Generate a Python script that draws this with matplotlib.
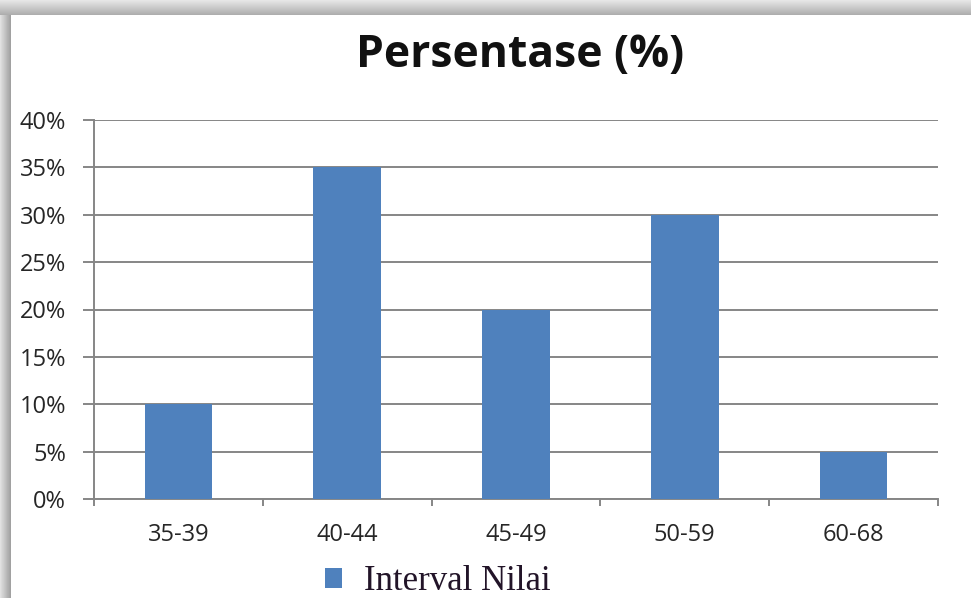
import numpy as np
import matplotlib
matplotlib.use("Agg")
import matplotlib.pyplot as plt
from matplotlib.ticker import PercentFormatter, FixedLocator

categories = ["35-39", "40-44", "45-49", "50-59", "60-68"]
values = [10, 35, 20, 30, 5]
series_name = "Interval Nilai"
title = "Persentase (%)"
yticks = [0, 5, 10, 15, 20, 25, 30, 35, 40]

W, H = 971, 598
fig = plt.figure(figsize=(W / 100, H / 100), dpi=100)

# background with shadow frame
bg = fig.add_axes([0, 0, 1, 1])
img = np.ones((H, W))
top, left = 15, 11
for y in range(top):
    t = y / (top - 1)
    img[y, :] = 0.90 - 0.22 * t
for x in range(left):
    t = x / (left - 1)
    img[top:, x] = 0.88 - 0.25 * t
for y in range(top):
    for x in range(left):
        img[y, x] = min(img[y, x], 0.9)
bg.imshow(img, cmap="gray", vmin=0, vmax=1, aspect="auto", interpolation="bilinear")
bg.axis("off")

grid_c = "#868686"
ax = fig.add_axes([94 / W, 1 - 499 / H, (938 - 94) / W, (499 - 120) / H])
x = np.arange(len(categories))
bars = ax.bar(x, values, width=0.4, color="#4F81BD", label=series_name, zorder=3)
ax.set_xlim(-0.5, len(categories) - 0.5)
ax.set_ylim(0, 40)
ax.yaxis.set_major_locator(FixedLocator(yticks))
ax.yaxis.set_major_formatter(PercentFormatter(decimals=0))
ax.grid(axis="y", color=grid_c, linewidth=1.4, zorder=0)
ax.set_xticks(x)
ax.set_xticklabels(categories)
ax.set_xticks(np.arange(len(categories) + 1) - 0.5, minor=True)
ax.tick_params(axis="x", which="major", length=0, pad=17)
ax.tick_params(axis="x", which="minor", length=5, width=1.4, color=grid_c)
ax.tick_params(axis="y", length=8, width=1.4, color=grid_c, pad=12)
for lab in ax.get_xticklabels() + ax.get_yticklabels():
    lab.set_fontfamily("Open Sans")
    lab.set_fontsize(17)
    lab.set_color("#262626")
for s in ["top", "right"]:
    ax.spines[s].set_visible(False)
for s in ["left", "bottom"]:
    ax.spines[s].set_color(grid_c)
    ax.spines[s].set_linewidth(1.4)

fig.text(520 / W, 1 - 67 / H, title, ha="center", va="baseline",
         fontsize=32, fontweight="bold", family="Open Sans", color="#111111")

leg = fig.legend(handles=[bars], labels=[series_name], loc="center",
                 bbox_to_anchor=(438 / W, 1 - 582 / H), frameon=False,
                 prop={"family": "Liberation Serif", "size": 25},
                 handlelength=0.5, handleheight=0.5, handletextpad=0.63,
                 borderpad=0, borderaxespad=0)
for t in leg.get_texts():
    t.set_color("#221428")

fig.savefig("out.png", dpi=100)
